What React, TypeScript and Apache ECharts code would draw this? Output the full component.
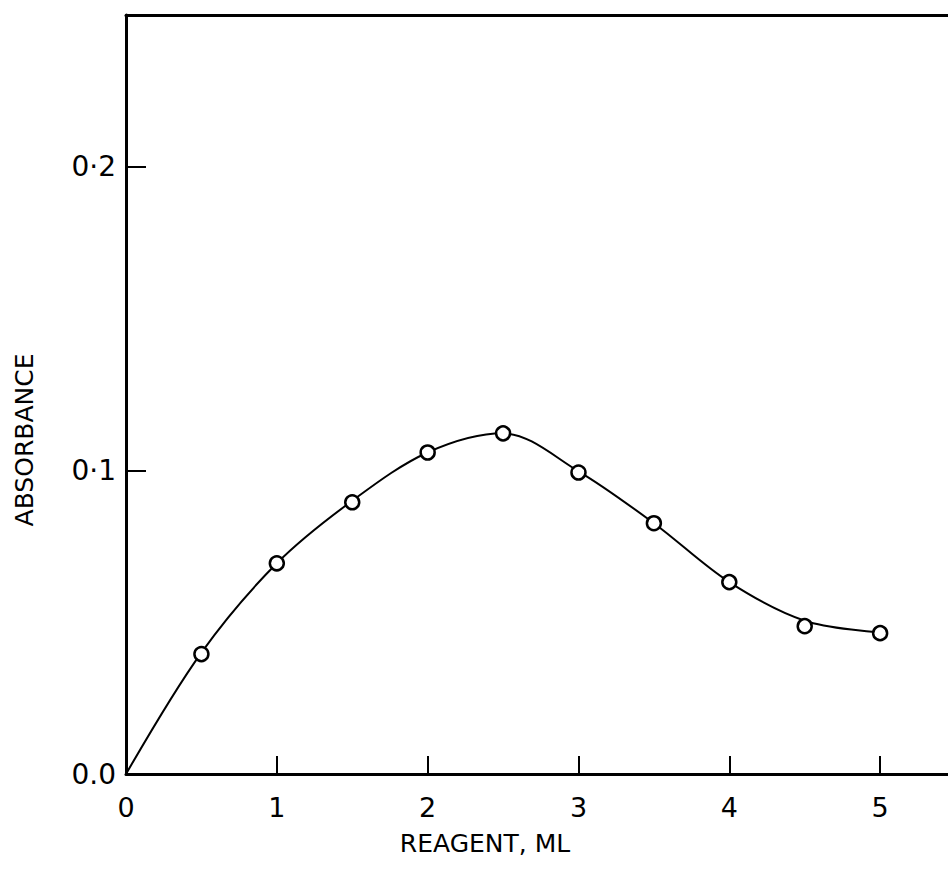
import React, { useEffect, useRef } from "react";
import * as echarts from "echarts";

const xValues = [0.5, 1, 1.5, 2, 2.5, 3, 3.5, 4, 4.5, 5];
const absorbance = [0.0395, 0.0694, 0.0895, 0.1059, 0.1122, 0.0993, 0.0826, 0.0632, 0.0487, 0.0464];
const curveX = [0, 0.5, 1, 1.5, 2, 2.5, 3, 3.5, 4, 4.5, 5];
const curveY = [0, 0.04, 0.0694, 0.09, 0.1059, 0.1122, 0.0997, 0.0826, 0.0632, 0.0505, 0.0466];
const xTickLabels = ["0", "1", "2", "3", "4", "5"];
const yTickLabels = ["0.0", "0·1", "0·2"];
const xTitle = "REAGENT, ML";
const yTitle = "ABSORBANCE";

const FONT = "DejaVu Sans";
const X_MAX = 5.45;

export default function App() {
  const ref = useRef<HTMLDivElement>(null);
  useEffect(() => {
    if (!ref.current) return;
    const chart = echarts.init(ref.current, null, { renderer: "svg" });
    chart.setOption({
      animation: false,
      backgroundColor: "#fff",
      grid: {
        left: 126,
        top: 15,
        right: 0,
        bottom: 111,
        show: false,
        containLabel: false,
      },
      xAxis: [
        {
          type: "value",
          min: 0,
          max: X_MAX,
          interval: 1,
          axisLine: { show: true, lineStyle: { color: "#000", width: 3 } },
          axisTick: { show: true, inside: true, length: 18, lineStyle: { color: "#000", width: 2 } },
          splitLine: { show: false },
          axisLabel: {
            showMaxLabel: false,
            margin: 20,
            color: "#000",
            fontFamily: FONT,
            fontSize: 27,
            formatter: (v: number) => {
              const i = Math.round(v);
              return Math.abs(v - i) < 1e-6 && xTickLabels[i] !== undefined ? xTickLabels[i] : "";
            },
          },
        },
        {
          type: "value",
          position: "top",
          min: 0,
          max: X_MAX,
          axisLine: { show: true, onZero: false, lineStyle: { color: "#000", width: 3 } },
          axisTick: { show: false },
          axisLabel: { show: false },
          splitLine: { show: false },
        },
      ],
      yAxis: {
        type: "value",
        min: 0,
        max: 0.25,
        interval: 0.1,
        axisLine: { show: true, lineStyle: { color: "#000", width: 3 } },
        axisTick: { show: true, inside: true, length: 20, lineStyle: { color: "#000", width: 2 } },
        splitLine: { show: false },
        axisLabel: {
          showMaxLabel: false,
          margin: 10,
          color: "#000",
          fontFamily: FONT,
          fontSize: 28,
          formatter: (v: number) => {
            const i = Math.round(v * 10);
            return Math.abs(v * 10 - i) < 1e-6 && yTickLabels[i] !== undefined ? yTickLabels[i] : "";
          },
        },
      },
      graphic: [
        {
          type: "text",
          x: 485,
          y: 843,
          style: {
            text: xTitle,
            fill: "#000",
            font: `25px "${FONT}"`,
            align: "center",
            verticalAlign: "middle",
          },
        },
        {
          type: "text",
          x: 24,
          y: 440,
          rotation: Math.PI / 2,
          style: {
            text: yTitle,
            fill: "#000",
            font: `25px "${FONT}"`,
            align: "center",
            verticalAlign: "middle",
          },
        },
      ],
      series: [
        {
          type: "line",
          xAxisIndex: 0,
          data: curveX.map((x, i) => [x, curveY[i]]),
          smooth: 0.33,
          showSymbol: false,
          lineStyle: { color: "#000", width: 2 },
          z: 2,
        },
        {
          type: "scatter",
          xAxisIndex: 0,
          data: xValues.map((x, i) => [x, absorbance[i]]),
          symbol: "circle",
          symbolSize: 14,
          itemStyle: { color: "#fff", borderColor: "#000", borderWidth: 2.5, opacity: 1 },
          z: 3,
        },
      ],
    });
    return () => chart.dispose();
  }, []);
  return (
    <div
      ref={ref}
      style={{ position: "fixed", left: 0, top: 0, width: 948, height: 885, background: "#fff" }}
    />
  );
}
